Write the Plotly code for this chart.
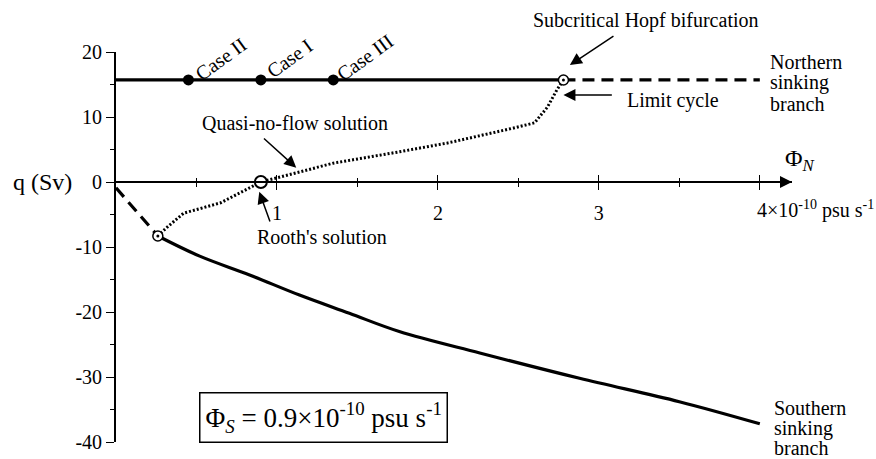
import plotly.graph_objects as go

# ---- data ----
north_stable_phi = [0.0, 2.78]
north_stable_q = [15.7, 15.7]
north_unstable_phi = [2.78, 4.0]
north_unstable_q = [15.7, 15.7]

south_unstable_phi = [0.0, 0.13, 0.26]
south_unstable_q = [-0.9, -4.6, -8.3]
south_stable_phi = [0.26, 0.52, 0.83, 1.14, 1.45, 1.76, 2.26, 2.88, 3.50, 4.0]
south_stable_q = [-8.3, -11.4, -14.3, -17.4, -20.2, -23.0, -26.3, -30.2, -33.8, -37.2]

quasi_phi = [0.26, 0.32, 0.42, 0.65, 0.9, 1.35, 1.75, 2.06, 2.47, 2.60, 2.68, 2.74, 2.78]
quasi_q = [-8.3, -6.9, -4.8, -3.2, 0.0, 2.9, 4.6, 6.0, 8.3, 9.1, 11.5, 14.2, 15.7]

case_phi = [0.45, 0.9, 1.35]
case_q = [15.7, 15.7, 15.7]
case_names = ["Case II", "Case I", "Case III"]

rooth_phi = [0.9]
rooth_q = [0.0]
special_phi = [0.26, 2.78]   # saddle-node end and Hopf point
special_q = [-8.3, 15.7]

x_tickvals = [1, 2, 3, 4]
x_ticktext = ["1", "2", "3", ""]
y_tickvals = [-40, -30, -20, -10, 0, 10, 20]
y_ticktext = ["-40", "-30", "-20", "-10", "0", "10", "20"]

north_label_lines = ["Northern", "sinking", "branch"]
south_label_lines = ["Southern", "sinking", "branch"]

X_RANGE = [0, 4.2]
Y_RANGE = [-40, 20]

FONT = '"Liberation Serif", "Times New Roman", Times, serif'
FS = 20


def xp(x):
    return (x - X_RANGE[0]) / (X_RANGE[1] - X_RANGE[0])


def yp(y):
    return (y - Y_RANGE[0]) / (Y_RANGE[1] - Y_RANGE[0])


fig = go.Figure()

line_w = 3.2
fig.add_trace(go.Scatter(x=north_stable_phi, y=north_stable_q, mode="lines",
                         line=dict(color="black", width=line_w)))
fig.add_trace(go.Scatter(x=north_unstable_phi, y=north_unstable_q, mode="lines",
                         line=dict(color="black", width=line_w, dash="12px,7px")))
fig.add_trace(go.Scatter(x=south_unstable_phi, y=south_unstable_q, mode="lines",
                         line=dict(color="black", width=line_w, dash="12px,7px")))
fig.add_trace(go.Scatter(x=south_stable_phi, y=south_stable_q, mode="lines",
                         line=dict(color="black", width=line_w, shape="spline")))
fig.add_trace(go.Scatter(x=quasi_phi, y=quasi_q, mode="lines",
                         line=dict(color="black", width=3, dash="2px,2px")))
fig.add_trace(go.Scatter(x=case_phi, y=case_q, mode="markers",
                         marker=dict(color="black", size=11)))
fig.add_trace(go.Scatter(x=rooth_phi, y=rooth_q, mode="markers",
                         marker=dict(color="white", size=12,
                                     line=dict(color="black", width=2))))
fig.add_trace(go.Scatter(x=special_phi, y=special_q, mode="markers",
                         marker=dict(color="white", size=10, symbol="circle",
                                     line=dict(color="black", width=1.5))))
fig.add_trace(go.Scatter(x=special_phi, y=special_q, mode="markers",
                         marker=dict(color="black", size=3, symbol="circle")))

annotations = []


def text(x, y, s, xref="paper", yref="paper", xanchor="center", yanchor="middle",
         size=FS, angle=0, align="center", **kw):
    annotations.append(dict(x=x, y=y, xref=xref, yref=yref, text=s, showarrow=False,
                            xanchor=xanchor, yanchor=yanchor, textangle=angle,
                            align=align,
                            font=dict(family=FONT, size=size, color="black"), **kw))


def arrow(x_tip, y_tip, x_tail, y_tail):
    annotations.append(dict(x=x_tip, y=y_tip, ax=x_tail, ay=y_tail, xref="x", yref="y",
                            axref="x", ayref="y", text="", showarrow=True,
                            arrowhead=2, arrowsize=1.6, arrowwidth=1.5,
                            arrowcolor="black"))


# case labels
case_label_pos = [(0.65, 19.0), (1.08, 19.1), (1.55, 19.2)]
for (cx, cy), name in zip(case_label_pos, case_names):
    text(xp(cx), yp(cy), name, angle=-36)

text(xp(3.29), yp(24.9), "Subcritical Hopf bifurcation")
arrow(2.82, 18.0, 3.10, 22.6)

for line, py in zip(north_label_lines, [0.974, 0.921, 0.867]):
    text(0.9645, py, line, xanchor="left", align="left")

text(3.16, 12.6, "Limit cycle", xref="x", yref="y", xanchor="left")
arrow(2.78, 13.4, 3.09, 13.4)

text(1.11, 9.1, "Quasi-no-flow solution", xref="x", yref="y")
arrow(1.12, 2.2, 0.91, 6.9)

text(1.28, -8.5, "Rooth's solution", xref="x", yref="y")
arrow(0.89, -1.5, 0.96, -6.3)

for line, py in zip(south_label_lines, [0.086, 0.034, -0.016]):
    text(0.970, py, line, xanchor="left", align="left")

text(-0.108, yp(0), "q (Sv)", size=24)
text(0.986, yp(3.4), "Φ<sub><i>N</i></sub>", xanchor="left", size=24)
text(0.946, yp(-4.3), "4×10<sup>-10</sup> psu s<sup>-1</sup>", xanchor="left")

annotations.append(dict(x=1.29, y=-36.2, xref="x", yref="y", showarrow=False,
                        text="Φ<sub><i>S</i></sub> = 0.9×10<sup>-10</sup> psu s<sup>-1</sup>",
                        font=dict(family=FONT, size=27, color="black"),
                        bordercolor="black", borderwidth=1.5, borderpad=5,
                        bgcolor="white"))

# x-axis arrow head
annotations.append(dict(x=4.2, y=0, ax=4.0, ay=0, xref="x", yref="y", axref="x",
                        ayref="y", text="", showarrow=True, arrowhead=2,
                        arrowsize=1.6, arrowwidth=1.5, arrowcolor="black"))

fig.update_layout(
    width=876, height=459,
    margin=dict(l=116, r=84, t=52, b=17),
    paper_bgcolor="white", plot_bgcolor="white",
    showlegend=False,
    annotations=annotations,
    font=dict(family=FONT, size=FS, color="black"),
    xaxis=dict(range=X_RANGE, anchor="free", position=yp(0), automargin=False,
               showline=True, linecolor="black", linewidth=1.5,
               showgrid=False, zeroline=False,
               tickvals=x_tickvals, ticktext=x_ticktext,
               ticks="outside", ticklen=7, tickwidth=1.2, tickcolor="black",
               ticklabelstandoff=6,
               minor=dict(tickvals=[0.5, 1.5, 2.5, 3.5], ticks="outside",
                          ticklen=4, tickcolor="black", tickwidth=1),
               tickfont=dict(family=FONT, size=FS, color="black")),
    xaxis2=dict(range=X_RANGE, anchor="free", position=yp(0), overlaying="x",
                automargin=False,
                showline=False, showgrid=False, zeroline=False,
                tickvals=x_tickvals, showticklabels=False,
                ticks="inside", ticklen=7, tickwidth=1.2, tickcolor="black",
                minor=dict(tickvals=[0.5, 1.5, 2.5, 3.5], ticks="inside",
                           ticklen=4, tickcolor="black", tickwidth=1)),
    yaxis=dict(range=Y_RANGE, showline=True, linecolor="black", linewidth=1.8,
               automargin=False,
               showgrid=False, zeroline=False,
               tickvals=y_tickvals, ticktext=y_ticktext,
               ticks="outside", ticklen=8, tickwidth=1.2, tickcolor="black",
               minor=dict(dtick=5, ticks="outside", ticklen=4, tickcolor="black",
                          tickwidth=1),
               tickfont=dict(family=FONT, size=FS, color="black")),
)

# invisible trace to activate xaxis2 ticks
fig.add_trace(go.Scatter(x=[0], y=[0], xaxis="x2", mode="markers",
                         marker=dict(size=0.1, opacity=0), hoverinfo="skip"))

fig.write_html("out.html",
               config={"displayModeBar": False},
               post_script="document.body.style.margin='0px';"
                           "document.body.style.overflow='hidden';")
